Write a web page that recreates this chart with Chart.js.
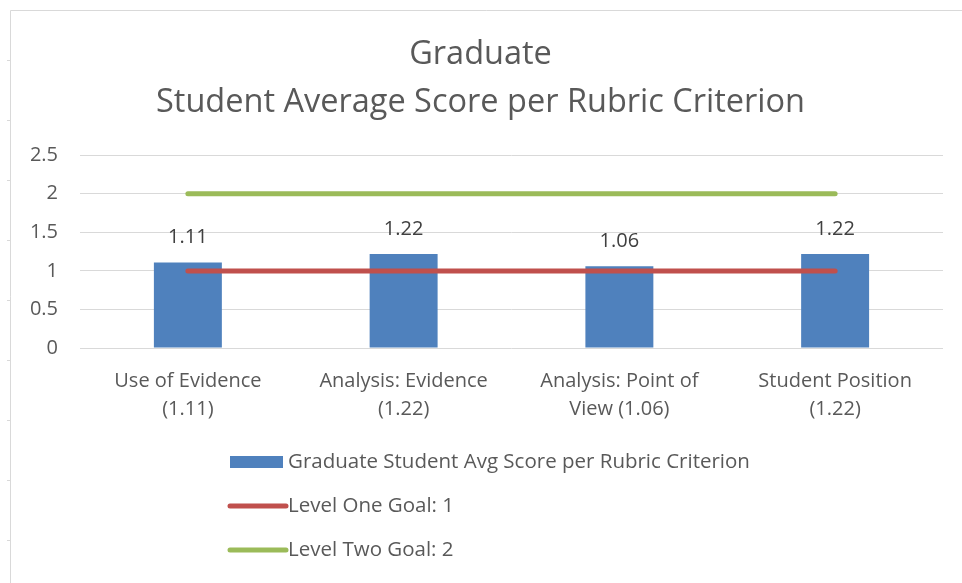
<!DOCTYPE html>
<html>
<head>
<meta charset="utf-8">
<script src="https://cdn.jsdelivr.net/npm/chart.js@4.4.0/dist/chart.umd.min.js"></script>
<style>
  html, body { margin: 0; padding: 0; background: #fff; }
  #wrap { width: 962px; height: 583px; position: relative; }
</style>
</head>
<body>
<div id="wrap"><canvas id="chart" width="962" height="583"></canvas></div>
<script>
// datos
const categories = [
  ['Use of Evidence', '(1.11)'],
  ['Analysis: Evidence', '(1.22)'],
  ['Analysis: Point of', 'View (1.06)'],
  ['Student Position', '(1.22)']
];
const avgScores = [1.11, 1.22, 1.06, 1.22];
const levelOne = [1, 1, 1, 1];
const levelTwo = [2, 2, 2, 2];
const yTicks = [0, 0.5, 1, 1.5, 2, 2.5];
const titleLines = ['Graduate', 'Student Average Score per Rubric Criterion'];
const seriesNames = [
  'Graduate Student Avg Score per Rubric Criterion',
  'Level One Goal: 1',
  'Level Two Goal: 2'
];

const FONT = 'Open Sans';
const GREY = '#595959';

// fondo y borde
const frame = {
  id: 'frame',
  beforeDraw(chart) {
    const ctx = chart.ctx;
    ctx.save();
    ctx.fillStyle = '#fff';
    ctx.fillRect(0, 0, chart.width, chart.height);
    ctx.strokeStyle = '#d9d9d9';
    ctx.lineWidth = 1;
    ctx.beginPath();
    ctx.moveTo(10.5, chart.height);
    ctx.lineTo(10.5, 10.5);
    ctx.lineTo(chart.width, 10.5);
    ctx.stroke();
    // marquitas del borde izquierdo
    for (let y = 60; y < chart.height; y += 60) {
      ctx.beginPath();
      ctx.moveTo(7, y + 0.5);
      ctx.lineTo(10, y + 0.5);
      ctx.stroke();
    }
    ctx.restore();
  }
};

// etiquetas encima de las barras
const barLabels = {
  id: 'barLabels',
  afterDatasetsDraw(chart) {
    const ctx = chart.ctx;
    const meta = chart.getDatasetMeta(0);
    ctx.save();
    ctx.font = '20px "' + FONT + '"';
    ctx.fillStyle = '#404040';
    ctx.textAlign = 'center';
    ctx.textBaseline = 'middle';
    meta.data.forEach((bar, i) => {
      ctx.fillText(avgScores[i].toFixed(2), bar.x, bar.y - 25);
    });
    ctx.restore();
  }
};

// leyenda vertical hecha a mano
const sideLegend = {
  id: 'sideLegend',
  afterDraw(chart) {
    const ctx = chart.ctx;
    const x0 = 230, rows = [462, 506, 550];
    ctx.save();
    ctx.font = '20.5px "' + FONT + '"';
    ctx.textBaseline = 'middle';
    chart.data.datasets.forEach((ds, i) => {
      const y = rows[i];
      if (ds.type === 'bar') {
        ctx.fillStyle = ds.backgroundColor;
        ctx.fillRect(x0, y - 6, 53, 12);
      } else {
        ctx.strokeStyle = ds.borderColor;
        ctx.lineWidth = 5;
        ctx.lineCap = 'round';
        ctx.beginPath();
        ctx.moveTo(x0, y);
        ctx.lineTo(x0 + 56, y);
        ctx.stroke();
      }
      ctx.fillStyle = GREY;
      ctx.fillText(ds.label, x0 + 58, y);
    });
    ctx.restore();
  }
};

const ctx = document.getElementById('chart');

new Chart(ctx, {
  data: {
    labels: categories,
    datasets: [
      {
        type: 'bar',
        label: seriesNames[0],
        data: avgScores,
        backgroundColor: '#4F81BD',
        barPercentage: 0.315,
        categoryPercentage: 1,
        order: 2
      },
      {
        type: 'line',
        label: seriesNames[1],
        data: levelOne,
        borderColor: '#C0504D',
        borderWidth: 5,
        borderCapStyle: 'round',
        pointRadius: 0,
        order: 1
      },
      {
        type: 'line',
        label: seriesNames[2],
        data: levelTwo,
        borderColor: '#9BBB59',
        borderWidth: 5,
        borderCapStyle: 'round',
        pointRadius: 0,
        order: 1
      }
    ]
  },
  options: {
    responsive: false,
    animation: false,
    layout: { padding: { top: 31, left: 18, right: 19, bottom: 149 } },
    plugins: {
      legend: { display: false },
      tooltip: { enabled: false },
      title: {
        display: true,
        text: titleLines,
        color: GREY,
        font: { family: FONT, size: 32.5, weight: 'normal', lineHeight: 1.48 },
        padding: { top: 0, bottom: 28 }
      }
    },
    scales: {
      x: {
        grid: { display: false },
        border: { display: false },
        ticks: {
          color: GREY,
          font: { family: FONT, size: 20, lineHeight: 1.4 },
          padding: 11,
          maxRotation: 0
        }
      },
      y: {
        min: 0,
        max: 2.5,
        afterFit(scale) { scale.width = 62; },
        afterBuildTicks(scale) { scale.ticks = yTicks.map(v => ({ value: v })); },
        grid: { color: '#d9d9d9', drawTicks: false },
        border: { display: false },
        ticks: {
          color: GREY,
          font: { family: FONT, size: 20 },
          padding: 22,
          callback: (v) => String(v)
        }
      }
    }
  },
  plugins: [frame, barLabels, sideLegend]
});
</script>
</body>
</html>
